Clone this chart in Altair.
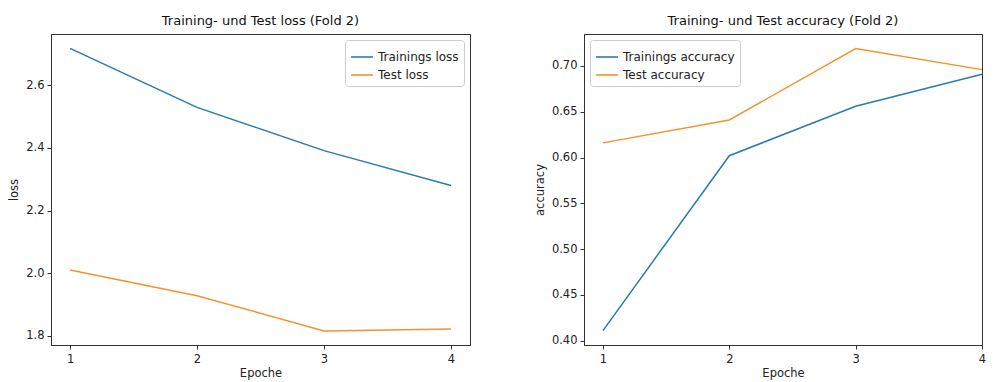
import altair as alt
import pandas as pd

epochs = [1, 2, 3, 4]
train_loss = [2.717, 2.529, 2.391, 2.280]
test_loss = [2.010, 1.928, 1.816, 1.822]
train_acc = [0.411, 0.602, 0.656, 0.691]
test_acc = [0.616, 0.641, 0.719, 0.696]

loss_series = ["Trainings loss", "Test loss"]
acc_series = ["Trainings accuracy", "Test accuracy"]
colors = ["#2a7ab0", "#f5922e"]

loss_df = pd.DataFrame({
    "Epoche": epochs * 2,
    "value": train_loss + test_loss,
    "series": [loss_series[0]] * 4 + [loss_series[1]] * 4,
})
acc_df = pd.DataFrame({
    "Epoche": epochs * 2,
    "value": train_acc + test_acc,
    "series": [acc_series[0]] * 4 + [acc_series[1]] * 4,
})

FONT = "DejaVu Sans"

def panel(df, names, ytitle, ydomain, yticks, yfmt, title, legend_orient,
          xdomain, width):
    x = alt.X("Epoche:Q", title="Epoche",
              scale=alt.Scale(domain=xdomain, nice=False, zero=False),
              axis=alt.Axis(values=epochs, format="d", grid=False,
                            labelFlush=False, labelPadding=4, titlePadding=3))
    y = alt.Y("value:Q", title=ytitle,
              scale=alt.Scale(domain=ydomain, nice=False, zero=False),
              axis=alt.Axis(values=yticks, format=yfmt, grid=False))
    color = alt.Color("series:N", sort=names,
                      scale=alt.Scale(domain=names, range=colors),
                      legend=alt.Legend(title=None, orient=legend_orient,
                                        offset=6, symbolType="stroke",
                                        symbolSize=480, symbolStrokeWidth=1.6,
                                        labelFontSize=12, labelFont=FONT,
                                        labelColor="#222", rowPadding=-2,
                                        padding=5, fillColor="white",
                                        strokeColor="#cccccc", cornerRadius=3))
    return alt.Chart(df).mark_line(strokeWidth=1.5).encode(
        x=x, y=y, color=color, order="Epoche:Q"
    ).properties(width=width, height=311,
                 title=alt.Title(title, fontSize=13, font=FONT,
                                 fontWeight="normal", color="#111", offset=6))

left = panel(loss_df, loss_series, "loss", [1.771, 2.763],
             [1.8, 2.0, 2.2, 2.4, 2.6], ".1f",
             "Training- und Test loss (Fold 2)", "top-right",
             [0.85, 4.15], 419)
right = panel(acc_df, acc_series, "accuracy", [0.3953, 0.7349],
              [0.40, 0.45, 0.50, 0.55, 0.60, 0.65, 0.70], ".2f",
              "Training- und Test accuracy (Fold 2)", "top-left",
              [0.85, 4.0], 398)

chart = alt.hconcat(left, right, spacing=62).resolve_scale(
    color="independent"
).resolve_legend(color="independent").properties(
    padding={"top": 6, "left": 0, "right": 0, "bottom": 0}
).configure_view(
    stroke="#333", strokeWidth=1
).configure_axis(
    labelFont=FONT, labelFontSize=11.5, labelColor="#222",
    titleFont=FONT, titleFontSize=11.5, titleFontWeight="normal", titleColor="#222",
    tickSize=4, tickColor="#333", domainColor="#333", labelPadding=3,
    titlePadding=4
).configure_axisY(titlePadding=6)

chart.save("out.html", embed_options={"renderer": "svg", "actions": False})
